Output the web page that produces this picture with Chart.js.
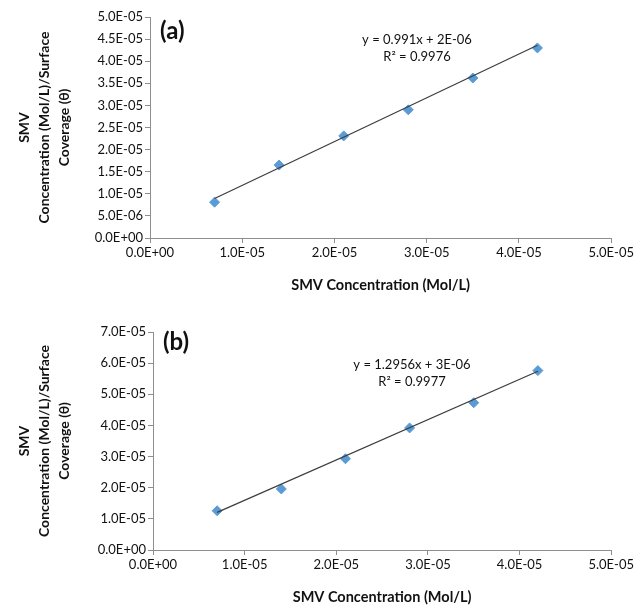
<!DOCTYPE html>
<html>
<head>
<meta charset="utf-8">
<script src="https://cdn.jsdelivr.net/npm/chart.js@4"></script>
<style>
  body { margin: 0; background: #fff; }
  .box { position: absolute; left: 0; }
</style>
</head>
<body>
<div class="box" style="top:0"><canvas id="chartA" width="636" height="300"></canvas></div>
<div class="box" style="top:300px"><canvas id="chartB" width="636" height="306"></canvas></div>
<script>
// SMV concentration (Mol/L), same for both panels
const concX = [0.7e-5, 1.4e-5, 2.1e-5, 2.8e-5, 3.5e-5, 4.2e-5];

// panel (a): C/theta values
const ratioA = [0.81e-5, 1.65e-5, 2.31e-5, 2.90e-5, 3.62e-5, 4.30e-5];
const trendXA = [0.7e-5, 4.2e-5];
const trendYA = [0.894e-5, 4.36e-5];
const eqA = ["y = 0.991x + 2E-06", "R\u00b2 = 0.9976"];

// panel (b)
const ratioB = [1.26e-5, 1.96e-5, 2.93e-5, 3.92e-5, 4.73e-5, 5.76e-5];
const trendXB = [0.7e-5, 4.2e-5];
const trendYB = [1.207e-5, 5.74e-5];
const eqB = ["y = 1.2956x + 3E-06", "R\u00b2 = 0.9977"];

const xTitle = "SMV Concentration (Mol/L)";
const yTitle = ["SMV", "Concentration (Mol/L)/Surface", "Coverage (\u03b8)"];

const FONT = "Lato, 'Open Sans', sans-serif";
const axisGray = "#8e8e8e";

function sci(v) {
  if (Math.abs(v) < 1e-12) return "0.0E+00";
  const parts = v.toExponential(1).split("e");
  const n = parseInt(parts[1], 10);
  return parts[0] + "E" + (n < 0 ? "-" : "+") + String(Math.abs(n)).padStart(2, "0");
}

function pts(xs, ys) {
  return xs.map((x, i) => ({ x: x, y: ys[i] }));
}

// draws the panel letter and the trendline equation
function labelsPlugin(tag, eq, tagPos, eqPos) {
  return {
    id: "labels",
    afterDatasetsDraw(chart) {
      const ctx = chart.ctx;
      ctx.save();
      ctx.fillStyle = "#111";
      ctx.textBaseline = "middle";
      ctx.textAlign = "left";
      ctx.font = "bold 24px " + FONT;
      ctx.fillText(tag, tagPos[0], tagPos[1]);
      ctx.textAlign = "center";
      ctx.font = "13px " + FONT;
      ctx.fillText(eq[0], eqPos[0], eqPos[1]);
      ctx.fillText(eq[1], eqPos[0], eqPos[1] + 17);
      ctx.restore();
    },
  };
}

function makeChart(id, data, trendX, trendY, yMax, yStep, yWidth, xHeight, padTop, titlePad, plugin) {
  return new Chart(document.getElementById(id), {
    type: "scatter",
    data: {
      datasets: [
        {
          label: "trend",
          data: pts(trendX, trendY),
          showLine: true,
          borderColor: "#3d3d3d",
          borderWidth: 1.2,
          pointRadius: 0,
          order: 0,
        },
        {
          label: "data",
          data: pts(concX, data),
          pointStyle: "rectRot",
          pointRadius: 5,
          backgroundColor: "#5b9bd5",
          borderColor: "#5b9bd5",
          order: 1,
        },
      ],
    },
    options: {
      responsive: false,
      animation: false,
      layout: { padding: { top: padTop, right: 22, left: 0, bottom: 0 } },
      plugins: {
        legend: { display: false },
        tooltip: { enabled: false },
      },
      scales: {
        x: {
          type: "linear",
          min: 0,
          max: 5e-5,
          ticks: {
            stepSize: 1e-5,
            callback: (v) => sci(v),
            color: "#111",
            font: { family: FONT, size: 13 },
            padding: 2,
            maxRotation: 0,
          },
          grid: { drawOnChartArea: false, tickLength: 5, color: axisGray },
          border: { color: axisGray },
          title: {
            display: true,
            text: xTitle,
            color: "#111",
            font: { family: FONT, size: 14.5, weight: "bold" },
            padding: { top: 0, bottom: titlePad },
          },
          afterFit(scale) { scale.height = xHeight; },
        },
        y: {
          type: "linear",
          min: 0,
          max: yMax,
          ticks: {
            stepSize: yStep,
            callback: (v) => sci(v),
            color: "#111",
            font: { family: FONT, size: 13 },
            padding: 2,
          },
          grid: { drawOnChartArea: false, tickLength: 5, color: axisGray },
          border: { color: axisGray },
          title: {
            display: true,
            text: yTitle,
            color: "#111",
            font: { family: FONT, size: 14, weight: "bold", lineHeight: 1.4 },
            padding: { top: 15, bottom: 0 },
          },
          afterFit(scale) { scale.width = yWidth; },
        },
      },
    },
    plugins: [plugin],
  });
}

makeChart("chartA", ratioA, trendXA, trendYA, 5e-5, 5e-6, 150, 62, 17, 6,
  labelsPlugin("(a)", eqA, [160, 31], [417, 40]));
makeChart("chartB", ratioB, trendXB, trendYB, 7e-5, 1e-5, 153, 56, 32, 0,
  labelsPlugin("(b)", eqB, [163, 42], [412, 65]));
</script>
</body>
</html>
